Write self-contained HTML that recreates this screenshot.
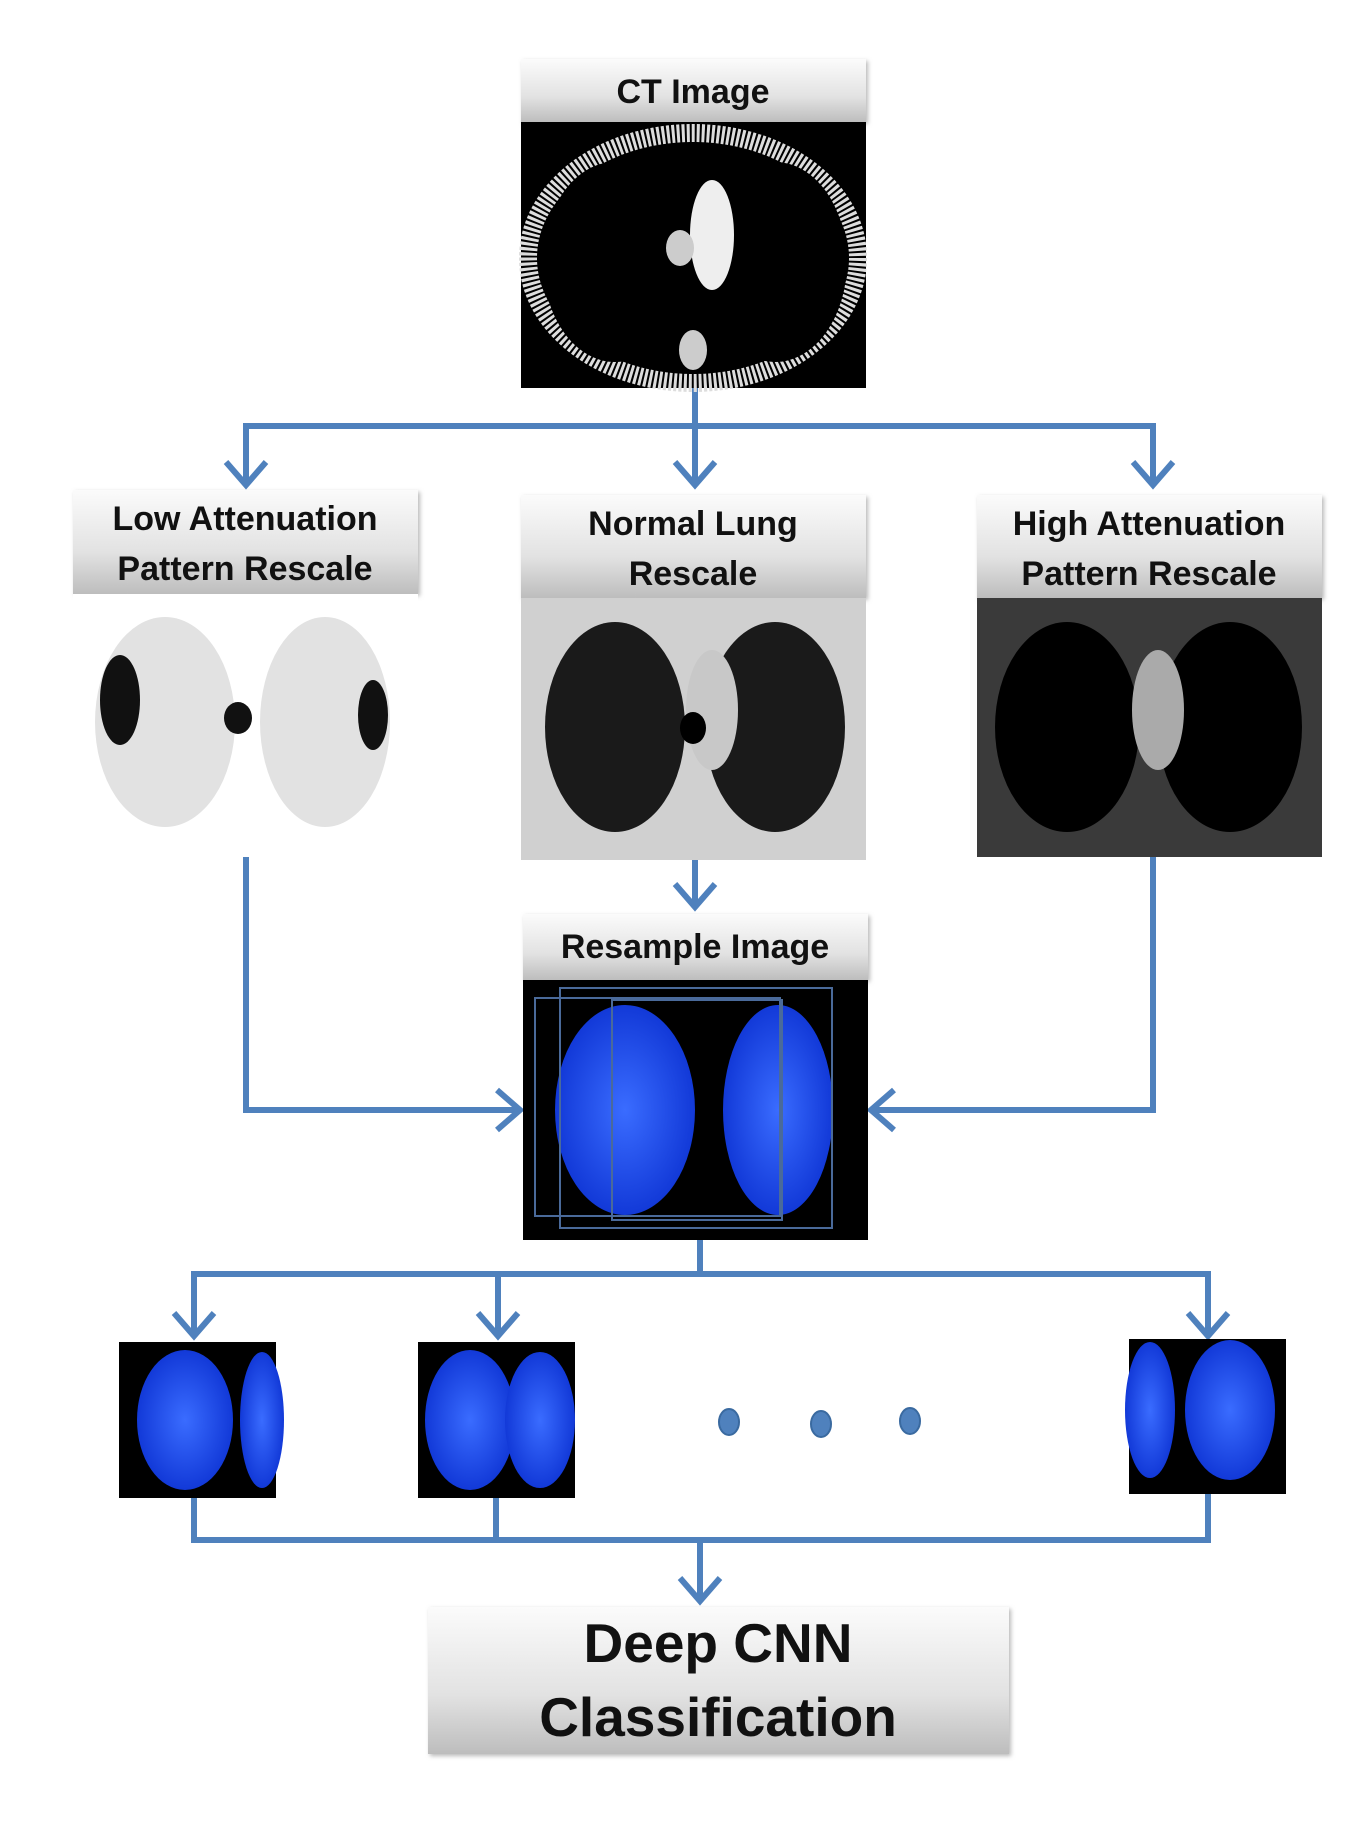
<!DOCTYPE html>
<html><head><meta charset="utf-8"><style>
html,body{margin:0;padding:0;background:#fff;}
svg{display:block}
text{font-family:"Liberation Sans",sans-serif;font-weight:bold;fill:#111;}
</style></head><body>
<svg width="1368" height="1825" viewBox="0 0 1368 1825" xmlns="http://www.w3.org/2000/svg">
<defs>
<linearGradient id="g" x1="0" y1="0" x2="0" y2="1">
<stop offset="0" stop-color="#fbfbfb"/><stop offset="0.6" stop-color="#e2e2e2"/><stop offset="1" stop-color="#bdbdbd"/>
</linearGradient>
<radialGradient id="blue" cx="0.5" cy="0.5" r="0.6">
<stop offset="0" stop-color="#3a6cff"/><stop offset="1" stop-color="#0a2fd0"/>
</radialGradient>
<filter id="sh"><feDropShadow dx="2" dy="2" stdDeviation="2" flood-color="#888" flood-opacity="0.6"/></filter>
</defs>

<g stroke="#4f81bd" stroke-width="6" fill="none" stroke-linejoin="miter">
<line x1="695" y1="388" x2="695" y2="426"/>
<polyline points="246,484 246,426 1153,426 1153,484"/>
<line x1="695" y1="426" x2="695" y2="484"/>
<polyline points="226,462 246,485 266,462"/>
<polyline points="675,462 695,485 715,462"/>
<polyline points="1133,462 1153,485 1173,462"/>
<line x1="695" y1="860" x2="695" y2="906"/>
<polyline points="675,884 695,907 715,884"/>
<polyline points="246,857 246,1110 519,1110"/>
<polyline points="497,1090 520,1110 497,1130"/>
<polyline points="1153,857 1153,1110 872,1110"/>
<polyline points="894,1090 871,1110 894,1130"/>
<line x1="700" y1="1240" x2="700" y2="1274"/>
<polyline points="194,1335 194,1274 1208,1274 1208,1335"/>
<line x1="498" y1="1274" x2="498" y2="1335"/>
<polyline points="174,1313 194,1336 214,1313"/>
<polyline points="478,1313 498,1336 518,1313"/>
<polyline points="1188,1313 1208,1336 1228,1313"/>
<polyline points="194,1498 194,1540 1208,1540 1208,1494"/>
<line x1="496" y1="1498" x2="496" y2="1540"/>
<line x1="700" y1="1540" x2="700" y2="1600"/>
<polyline points="680,1578 700,1601 720,1578"/>
</g>

<!-- CT image -->
<rect x="521" y="59" width="345" height="63" fill="url(#g)" filter="url(#sh)"/>
<text x="693" y="103" font-size="34" text-anchor="middle">CT Image</text>
<rect x="521" y="122" width="345" height="266" fill="#000"/>
<ellipse cx="693" cy="258" rx="165" ry="125" fill="none" stroke="#ddd" stroke-width="18" stroke-dasharray="3 2"/>
<ellipse cx="615" cy="262" rx="72" ry="100" fill="#000"/>
<ellipse cx="775" cy="262" rx="72" ry="100" fill="#000"/>
<ellipse cx="712" cy="235" rx="22" ry="55" fill="#eee"/>
<ellipse cx="680" cy="248" rx="14" ry="18" fill="#ccc"/>
<ellipse cx="693" cy="350" rx="14" ry="20" fill="#ccc"/>

<!-- Low -->
<rect x="73" y="490" width="345" height="104" fill="url(#g)" filter="url(#sh)"/>
<text x="245" y="530" font-size="34" text-anchor="middle">Low Attenuation</text>
<text x="245" y="580" font-size="34" text-anchor="middle">Pattern Rescale</text>
<rect x="73" y="594" width="345" height="263" fill="#fff"/>
<ellipse cx="165" cy="722" rx="70" ry="105" fill="#e2e2e2"/>
<ellipse cx="325" cy="722" rx="65" ry="105" fill="#e2e2e2"/>
<ellipse cx="120" cy="700" rx="20" ry="45" fill="#111"/>
<ellipse cx="373" cy="715" rx="15" ry="35" fill="#111"/>
<ellipse cx="238" cy="718" rx="14" ry="16" fill="#111"/>

<!-- Normal -->
<rect x="521" y="495" width="345" height="103" fill="url(#g)" filter="url(#sh)"/>
<text x="693" y="535" font-size="34" text-anchor="middle">Normal Lung</text>
<text x="693" y="585" font-size="34" text-anchor="middle">Rescale</text>
<rect x="521" y="598" width="345" height="262" fill="#d0d0d0"/>
<ellipse cx="615" cy="727" rx="70" ry="105" fill="#1a1a1a"/>
<ellipse cx="775" cy="727" rx="70" ry="105" fill="#1a1a1a"/>
<ellipse cx="712" cy="710" rx="26" ry="60" fill="#c8c8c8"/>
<ellipse cx="693" cy="728" rx="13" ry="16" fill="#000"/>

<!-- High -->
<rect x="977" y="495" width="345" height="103" fill="url(#g)" filter="url(#sh)"/>
<text x="1149" y="535" font-size="34" text-anchor="middle">High Attenuation</text>
<text x="1149" y="585" font-size="34" text-anchor="middle">Pattern Rescale</text>
<rect x="977" y="598" width="345" height="259" fill="#3a3a3a"/>
<ellipse cx="1067" cy="727" rx="72" ry="105" fill="#000"/>
<ellipse cx="1230" cy="727" rx="72" ry="105" fill="#000"/>
<ellipse cx="1158" cy="710" rx="26" ry="60" fill="#aaa"/>

<!-- Resample -->
<rect x="523" y="914" width="345" height="66" fill="url(#g)" filter="url(#sh)"/>
<text x="695" y="958" font-size="34" text-anchor="middle">Resample Image</text>
<rect x="523" y="980" width="345" height="260" fill="#000"/>
<ellipse cx="625" cy="1110" rx="70" ry="105" fill="url(#blue)"/>
<ellipse cx="778" cy="1110" rx="55" ry="105" fill="url(#blue)"/>
<g fill="none" stroke="#4a6a9a" stroke-width="2">
<rect x="535" y="998" width="245" height="218"/>
<rect x="560" y="988" width="272" height="240"/>
<rect x="612" y="1000" width="170" height="220"/>
</g>

<rect x="119" y="1342" width="157" height="156" fill="#000"/>
<ellipse cx="185" cy="1420" rx="48" ry="70" fill="url(#blue)"/>
<ellipse cx="262" cy="1420" rx="22" ry="68" fill="url(#blue)"/>
<rect x="418" y="1342" width="157" height="156" fill="#000"/>
<ellipse cx="470" cy="1420" rx="45" ry="70" fill="url(#blue)"/>
<ellipse cx="540" cy="1420" rx="35" ry="68" fill="url(#blue)"/>
<rect x="1129" y="1339" width="157" height="155" fill="#000"/>
<ellipse cx="1150" cy="1410" rx="25" ry="68" fill="url(#blue)"/>
<ellipse cx="1230" cy="1410" rx="45" ry="70" fill="url(#blue)"/>

<g fill="#4f81bd" stroke="#3a6aa0" stroke-width="2">
<ellipse cx="729" cy="1422" rx="10" ry="13"/>
<ellipse cx="821" cy="1424" rx="10" ry="13"/>
<ellipse cx="910" cy="1421" rx="10" ry="13"/>
</g>

<rect x="428" y="1607" width="581" height="147" fill="url(#g)" filter="url(#sh)"/>
<text x="718" y="1662" font-size="55" text-anchor="middle">Deep CNN</text>
<text x="718" y="1736" font-size="55" text-anchor="middle">Classification</text>
</svg>
</body></html>
